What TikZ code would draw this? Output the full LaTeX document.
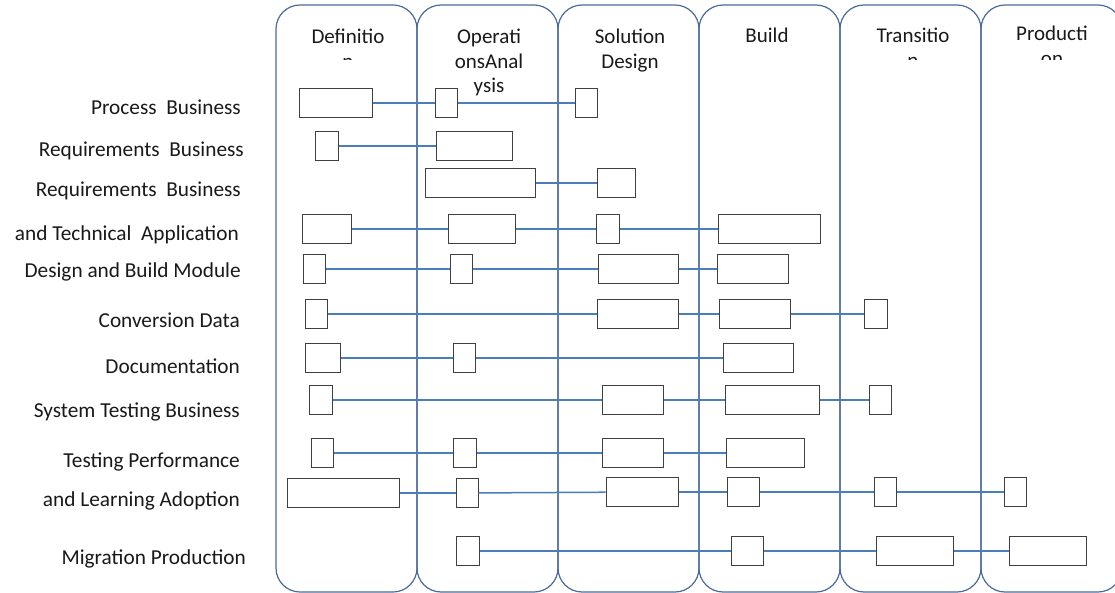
\documentclass[tikz,border=0pt]{standalone}
\usepackage{fontspec}
\setmainfont{Carlito}
\usetikzlibrary{positioning}
\definecolor{lanecol}{HTML}{4A6A9C}
\definecolor{linkcol}{HTML}{4A7EBB}
\tikzset{
  lane/.style={draw=lanecol, line width=1.2pt, rounded corners=24pt},
  head/.style={align=center, anchor=north, inner sep=0pt, text=black!90, font=\fontsize{21}{24.6}\selectfont},
  rowlabel/.style={anchor=base east, inner sep=0pt, text=black!90, font=\fontsize{21.3}{25}\selectfont},
  task/.style={rectangle, draw=black!75, line width=1pt, fill=white, minimum height=29pt, inner sep=0pt},
  link/.style={draw=linkcol, line width=1.5pt},
}
\begin{document}
\begin{tikzpicture}[x=1pt, y=-1pt]
    \useasboundingbox (0,0) rectangle (1115,593);
    \foreach \x in {276,417,558,699,840,981}
      \draw[lane] (\x,5) rectangle ++(141,587);

    % phase headings (strut height 0.7*24.6 above the first baseline)
    \begin{scope}
      \clip (270,0) rectangle (1115,59.5);
      \node[head] (hdef) at (348,26) {\strut Definitio\\n};
      \node[head] (htra) at (913,25) {\strut Transitio\\n};
      \node[head] (hpro) at (1052,23) {\strut Producti\\on};
    \end{scope}
    \node[head] (hops) at (489,26) {\strut Operati\\onsAnal\\ysis};
    \node[head] (hsol) at (630,26) {\strut Solution\\Design};
    \node[head] (hbld) at (767,25) {\strut Build};

    % activities
    \node[rowlabel] (l1) at (241,115) {Process\ \ Business};
    \node[rowlabel] (l2) at (244,157) {Requirements\ \ Business};
    \node[rowlabel] (l3) at (241,197) {Requirements\ \ Business};
    \node[rowlabel] (l4) at (239,241) {and Technical\ \ Application};
    \node[rowlabel] (l5) at (241,278) {Design and Build Module};
    \node[rowlabel] (l6) at (240,327) {Conversion Data};
    \node[rowlabel] (l7) at (240,373) {Documentation};
    \node[rowlabel] (l8) at (240,417) {System Testing Business};
    \node[rowlabel] (l9) at (240,467) {Testing Performance};
    \node[rowlabel] (l10) at (240,506) {and Learning Adoption};
    \node[rowlabel] (l11) at (246,564) {Migration Production};

    \node[task, minimum width=73pt] (r1a) at (335.5,103) {};
    \node[task, minimum width=22pt] (r1b) at (446,103) {};
    \node[task, minimum width=22pt] (r1c) at (586,103) {};
    \draw[link] (r1a) -- (r1b);
    \draw[link] (r1b) -- (r1c);

    \node[task, minimum width=23pt] (r2a) at (326.5,146) {};
    \node[task, minimum width=76pt] (r2b) at (474,146) {};
    \draw[link] (r2a) -- (r2b);

    \node[task, minimum width=110pt] (r3a) at (480,183) {};
    \node[task, minimum width=38pt] (r3b) at (616,183) {};
    \draw[link] (r3a) -- (r3b);

    \node[task, minimum width=49pt] (r4a) at (326.5,229) {};
    \node[task, minimum width=67pt] (r4b) at (481.5,229) {};
    \node[task, minimum width=23pt] (r4c) at (607.5,229) {};
    \node[task, minimum width=102pt] (r4d) at (769,229) {};
    \draw[link] (r4a) -- (r4b);
    \draw[link] (r4b) -- (r4c);
    \draw[link] (r4c) -- (r4d);

    \node[task, minimum width=22pt] (r5a) at (314,269) {};
    \node[task, minimum width=22pt] (r5b) at (461,269) {};
    \node[task, minimum width=80pt] (r5c) at (638,269) {};
    \node[task, minimum width=71pt] (r5d) at (752.5,269) {};
    \draw[link] (r5a) -- (r5b);
    \draw[link] (r5b) -- (r5c);
    \draw[link] (r5c) -- (r5d);

    \node[task, minimum width=22pt] (r6a) at (316,314) {};
    \node[task, minimum width=81pt] (r6b) at (637.5,314) {};
    \node[task, minimum width=71pt] (r6c) at (754.5,314) {};
    \node[task, minimum width=23pt] (r6d) at (875.5,314) {};
    \draw[link] (r6a) -- (r6b);
    \draw[link] (r6b) -- (r6c);
    \draw[link] (r6c) -- (r6d);

    \node[task, minimum width=35pt] (r7a) at (322.5,358) {};
    \node[task, minimum width=22pt] (r7b) at (464,358) {};
    \node[task, minimum width=70pt] (r7c) at (758,358) {};
    \draw[link] (r7a) -- (r7b);
    \draw[link] (r7b) -- (r7c);

    \node[task, minimum width=23pt] (r8a) at (320.5,400) {};
    \node[task, minimum width=61pt] (r8b) at (632.5,400) {};
    \node[task, minimum width=94pt] (r8c) at (772,400) {};
    \node[task, minimum width=22pt] (r8d) at (880,400) {};
    \draw[link] (r8a) -- (r8b);
    \draw[link] (r8b) -- (r8c);
    \draw[link] (r8c) -- (r8d);

    \node[task, minimum width=22pt] (r9a) at (322,453) {};
    \node[task, minimum width=23pt] (r9b) at (464.5,453) {};
    \node[task, minimum width=61pt] (r9c) at (632.5,453) {};
    \node[task, minimum width=78pt] (r9d) at (765,453) {};
    \draw[link] (r9a) -- (r9b);
    \draw[link] (r9b) -- (r9c);
    \draw[link] (r9c) -- (r9d);

    \node[task, minimum width=112pt] (r10a) at (343,493) {};
    \node[task, minimum width=22pt] (r10b) at (467,493) {};
    \node[task, minimum width=72pt] (r10c) at (642,492) {};
    \node[task, minimum width=32pt] (r10d) at (743,492) {};
    \node[task, minimum width=22pt] (r10e) at (885,492) {};
    \node[task, minimum width=22pt] (r10f) at (1015,492) {};
    \draw[link] (r10a) -- (r10b);
    \draw[link] (r10b) -- (r10c);
    \draw[link] (r10c) -- (r10d);
    \draw[link] (r10d) -- (r10e);
    \draw[link] (r10e) -- (r10f);

    \node[task, minimum width=23pt] (r11a) at (467.5,551) {};
    \node[task, minimum width=32pt] (r11b) at (747,551) {};
    \node[task, minimum width=77pt] (r11c) at (914.5,551) {};
    \node[task, minimum width=77pt] (r11d) at (1047.5,551) {};
    \draw[link] (r11a) -- (r11b);
    \draw[link] (r11b) -- (r11c);
    \draw[link] (r11c) -- (r11d);
  \end{tikzpicture}
\end{document}
